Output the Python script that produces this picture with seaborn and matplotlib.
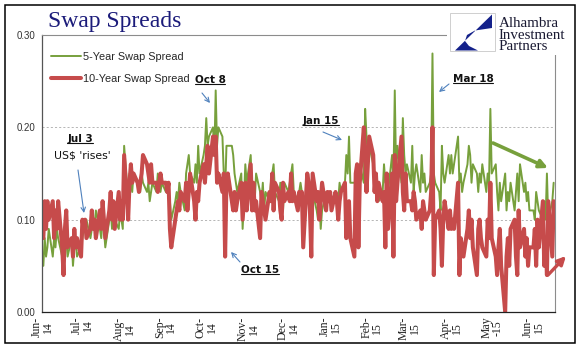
import numpy as np
import pandas as pd
import matplotlib
matplotlib.use("Agg")
import matplotlib.pyplot as plt
from matplotlib.patches import Polygon, Rectangle
from matplotlib.lines import Line2D
import seaborn as sns

# Swap spreads in basis points, one value per business day (Jun-2014 .. mid Jun-2015)
five_year_bp = [
    5, 8, 6, 7, 9, 6, 8, 7, 9, 8, 6, 7, 9, 8, 6, 8, 5, 7, 8, 6, 7,                   # Jun-14
    8, 9, 9, 10, 8, 9, 10, 9, 11, 9, 8, 10, 9, 7, 10, 11, 9, 12, 10, 9, 11, 10, 9,   # Jul-14
    18, 12, 15, 14, 13, 15, 14, 14, 13, 15, 14, 13, 14, 12, 13, 14, 13, 15, 14, 13, 14,  # Aug-14
    13, 14, 13, 12, 10, 12, 13, 12, 14, 13, 11, 15, 16, 17, 15, 14, 16, 14, 18, 15, 17, 18,  # Sep-14
    21, 18, 19, 20, 17, 24, 18, 20, 19, 15, 13, 18, 18, 18, 17, 15, 14, 13, 15, 9, 12, 16, 14,  # Oct-14
    17, 13, 14, 12, 15, 13, 12, 14, 11, 13, 12, 14, 15, 16, 13, 12, 14, 13, 11, 14,  # Nov-14
    13, 14, 15, 16, 13, 12, 13, 14, 13, 12, 13, 12, 11, 12, 13, 11, 10, 12, 9, 11, 13, 12, 13,  # Dec-14
    13, 12, 13, 12, 12, 14, 13, 14, 17, 15, 19, 14, 14, 14, 11, 13, 16, 14, 22, 19, 17, 18,  # Jan-15
    16, 15, 14, 14, 12, 13, 16, 14, 15, 13, 17, 14, 24, 15, 18, 14, 21, 17, 15, 16,  # Feb-15
    14, 18, 13, 15, 16, 13, 17, 14, 15, 13, 14, 15, 28, 15, 14, 13, 11, 18, 15, 14, 17, 15,  # Mar-15
    17, 15, 16, 19, 14, 15, 13, 14, 16, 18, 17, 14, 16, 15, 13, 15, 14, 16, 13, 15, 14, 22,  # Apr-15
    15, 16, 13, 11, 14, 12, 15, 11, 13, 12, 14, 11, 13, 15, 12, 16, 13, 14, 12, 13, 11,  # May-15
    11, 10, 13, 12, 11, 10, 12, 10, 15, 10, 12, 14,                                   # Jun-15
]
ten_year_bp = [
    8, 12, 9, 12, 10, 12, 8, 11, 9, 12, 7, 4, 9, 11, 7, 8, 6, 9, 7, 8, 6,
    10, 9, 10, 8, 9, 11, 9, 10, 8, 11, 9, 12, 10, 8, 11, 13, 10, 12, 9, 13, 10, 12, 10,
    17, 10, 14, 16, 14, 15, 14, 13, 14, 15, 17, 16, 15, 14, 16, 14, 14, 13, 14, 15, 14,
    14, 13, 14, 9, 7, 10, 11, 12, 11, 13, 12, 14, 11, 13, 15, 12, 10, 13, 12, 14, 16, 14,
    16, 18, 15, 19, 17, 19, 14, 15, 13, 15, 6, 14, 15, 12, 11, 13, 11, 12, 14, 10, 12, 14, 11,
    16, 11, 14, 11, 12, 8, 13, 12, 11, 10, 13, 12, 15, 11, 14, 13, 11, 10, 14, 12,
    13, 12, 15, 12, 13, 11, 13, 12, 13, 7, 15, 14, 11, 6, 15, 12, 13, 10, 12, 14, 11, 13, 12,
    13, 11, 13, 12, 10, 12, 13, 14, 8, 11, 12, 8, 6, 15, 16, 7, 14, 20, 17, 13, 16, 19,
    17, 13, 15, 12, 14, 12, 13, 7, 15, 9, 15, 6, 17, 12, 14, 19, 13, 11, 15, 12,
    12, 11, 13, 12, 10, 11, 9, 12, 11, 10, 11, 13, 20, 4, 10, 11, 9, 5, 10, 12, 9, 11,
    9, 10, 9, 14, 4, 8, 7, 6, 9, 11, 8, 10, 7, 4, 9, 10, 8, 7, 6, 10, 8, 14,
    8, 6, 4, 7, 9, 5, 0, 6, 8, 5, 9, 10, 6, 4, 11, 7, 9, 6, 8, 5, 7,
    7, 9, 5, 10, 7, 12, 5, 8, 4, 12, 6, 12,
]
month_labels = ["Jun-\n14", "Jul-\n14", "Aug-\n14", "Sep-\n14", "Oct-\n14", "Nov-\n14",
                "Dec-\n14", "Jan-\n15", "Feb-\n15", "Mar-\n15", "Apr-\n15", "May\n-15", "Jun-\n15"]
y_ticks = [0.0, 0.10, 0.20, 0.30]

GREEN = "#77A03C"
RED = "#C64B4B"
NAVY = "#1B1B7A"
ARROW_BLUE = "#4F81BD"

sns.set_style("white")
plt.rcParams["font.family"] = ["Liberation Sans", "DejaVu Sans"]

dates = pd.bdate_range("2014-06-02", periods=len(five_year_bp))
df = pd.DataFrame({
    "date": dates,
    "five": np.array(five_year_bp) / 100.0,
    "ten": np.array(ten_year_bp) / 100.0,
})

fig = plt.figure(figsize=(5.8, 3.61), dpi=100)
W, H = 580.0, 361.0


def px(x, y):
    return x / W, 1 - y / H


ax = fig.add_axes([42 / W, 1 - 312 / H, (555 - 42) / W, (312 - 35) / H])

sns.lineplot(data=df, x="date", y="five", color=GREEN, lw=1.4, label="5-Year Swap Spread", ax=ax)
sns.lineplot(data=df, x="date", y="ten", color=RED, lw=2.9, label="10-Year Swap Spread", ax=ax)

ax.set_xlim(pd.Timestamp("2014-06-01"), pd.Timestamp("2015-06-17"))
ax.set_ylim(0, 0.30)
ax.set_xlabel("")
ax.set_ylabel("")

month_starts = pd.date_range("2014-06-01", "2015-06-01", freq="MS")
ax.set_xticks(month_starts)
ax.set_xticklabels(month_labels, rotation=90, family="Liberation Serif", fontsize=8.5,
                   linespacing=0.9, color="#222222")
ax.set_yticks(y_ticks)
ax.set_yticklabels([f"{v:.2f}" for v in y_ticks], fontsize=7, color="#333333")
ax.tick_params(axis="both", direction="inout", length=5, width=0.8, color="#444444", pad=2)
ax.tick_params(axis="x", pad=1)

ax.yaxis.grid(True, ls=(0, (2.5, 2.5)), color="#AAAAAA", lw=0.6)
ax.xaxis.grid(False)
for side in ["top", "right"]:
    ax.spines[side].set_color("#8C8C8C")
    ax.spines[side].set_linewidth(0.8)
ax.spines["left"].set_color("#555555")
ax.spines["bottom"].set_color("#222222")
for side in ["left", "bottom"]:
    ax.spines[side].set_linewidth(0.9)

leg = ax.legend(loc="upper left", bbox_to_anchor=(0.01, 0.955), frameon=False,
                fontsize=7.8, handlelength=2.7, handletextpad=0.25, labelspacing=1.15,
                borderaxespad=0)

# title
fig.text(*px(48, 22), "Swap Spreads", family="Liberation Serif", fontsize=17, color=NAVY,
         ha="left", va="center")

# logo
fig.add_artist(Rectangle(px(447, 55), 123 / W, 45 / H, transform=fig.transFigure,
                         facecolor="white", edgecolor="none", zorder=5))
fig.add_artist(Rectangle(px(450, 51), 45 / W, 38 / H, transform=fig.transFigure,
                         facecolor="white", edgecolor="#C8C8C8", lw=0.6, zorder=6))
logo_pts = [(492, 14.5), (455, 50.5), (478, 50.5), (469, 46), (465, 41), (467, 35),
            (475, 30.5), (492, 28)]
fig.add_artist(Polygon([px(x, y) for x, y in logo_pts], closed=True, transform=fig.transFigure,
                       facecolor="#14218A", edgecolor="none", zorder=7))
for word, base in [("Alhambra", 27), ("Investment", 39), ("Partners", 50.5)]:
    fig.text(*px(499, base), word, family="Liberation Serif", fontsize=10.8, color="#1A1A33",
             ha="left", va="baseline", zorder=7)

# outer frame
fig.add_artist(Rectangle(px(5, 343), 570 / W, 338 / H, transform=fig.transFigure,
                         facecolor="none", edgecolor="black", lw=1.1, zorder=10))

# annotations (axes fraction)
def fa(x, y):
    return (x - 42) / 513.0, (312 - y) / 277.0


bold_kw = dict(family="DejaVu Sans", fontweight="bold", fontsize=7.5, color="#111111",
               ha="center", va="center")
labels = []
labels.append(ax.text(*fa(80, 139), "Jul 3", transform=ax.transAxes, **bold_kw))
labels.append(ax.text(*fa(210, 80), "Oct 8", transform=ax.transAxes, **bold_kw))
labels.append(ax.text(*fa(260, 270), "Oct 15", transform=ax.transAxes, **bold_kw))
labels.append(ax.text(*fa(321, 121), "Jan 15", transform=ax.transAxes, **bold_kw))
labels.append(ax.text(*fa(473, 79), "Mar 18", transform=ax.transAxes, **bold_kw))
ax.text(*fa(82, 156), "US$ 'rises'", transform=ax.transAxes, family="DejaVu Sans",
        fontsize=7.8, color="#111111", ha="center", va="center")

thin_arrows = [((78, 170), (84, 213)), ((202, 93), (210, 103)), ((240, 262), (231, 252)),
               ((323, 132), (342, 140)), ((449, 84), (439, 92))]
for tail, head in thin_arrows:
    ax.annotate("", xy=fa(*head), xytext=fa(*tail), xycoords="axes fraction",
                textcoords="axes fraction",
                arrowprops=dict(arrowstyle="->", color=ARROW_BLUE, lw=0.8,
                                shrinkA=0, shrinkB=0, mutation_scale=8))

ax.annotate("", xy=fa(548, 168), xytext=fa(493, 143), xycoords="axes fraction",
            textcoords="axes fraction", annotation_clip=False,
            arrowprops=dict(arrowstyle="-|>", color=GREEN, lw=2.6, shrinkA=0, shrinkB=0,
                            mutation_scale=12))
ax.annotate("", xy=fa(566, 256), xytext=fa(548, 275), xycoords="axes fraction",
            textcoords="axes fraction", annotation_clip=False,
            arrowprops=dict(arrowstyle="-|>", color=RED, lw=2.4, shrinkA=0, shrinkB=0,
                            mutation_scale=12))

# underline the date labels
fig.canvas.draw()
inv = fig.transFigure.inverted()
for t in labels:
    bb = t.get_window_extent().transformed(inv)
    y = bb.y0 + 0.12 * (bb.y1 - bb.y0)
    fig.add_artist(Line2D([bb.x0, bb.x1], [y, y], transform=fig.transFigure,
                          color="#111111", lw=0.8))

fig.savefig("out.png", dpi=100)
